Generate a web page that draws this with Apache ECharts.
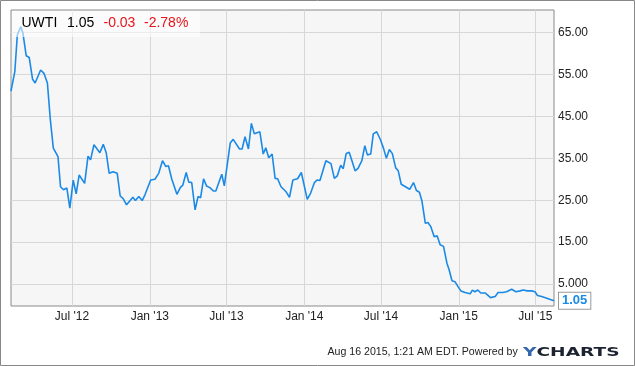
<!DOCTYPE html>
<html>
<head>
<meta charset="utf-8">
<script src="https://cdn.jsdelivr.net/npm/echarts@6/dist/echarts.min.js"></script>
<style>
html,body{margin:0;padding:0;background:#fff;}
#chart{width:635px;height:366px;}
</style>
</head>
<body>
<div id="chart"></div>
<script>
const dates = [
'2012-02-08','2012-02-17','2012-02-23','2012-03-02','2012-03-07','2012-03-15','2012-03-22','2012-03-30',
'2012-04-05','2012-04-18','2012-04-26','2012-05-04','2012-05-11','2012-05-18','2012-05-29','2012-06-04',
'2012-06-11','2012-06-19','2012-06-26','2012-07-04','2012-07-11','2012-07-18','2012-07-31','2012-08-08',
'2012-08-14','2012-08-22','2012-09-05','2012-09-13','2012-09-20','2012-09-27','2012-10-06','2012-10-16',
'2012-10-23','2012-10-30','2012-11-07','2012-11-22','2012-11-28','2012-12-06','2012-12-14','2012-12-21',
'2013-01-03','2013-01-13','2013-01-22','2013-01-31','2013-02-08','2013-02-14','2013-02-22','2013-03-06',
'2013-03-14','2013-03-20','2013-03-28','2013-04-03','2013-04-10','2013-04-18','2013-04-25','2013-05-01',
'2013-05-08','2013-05-15','2013-05-23','2013-05-31','2013-06-06','2013-06-20','2013-06-26','2013-07-10',
'2013-07-17','2013-08-01','2013-08-07','2013-08-14','2013-08-22','2013-08-29','2013-09-05','2013-09-18',
'2013-09-26','2013-10-02','2013-10-09','2013-10-17','2013-10-24','2013-10-30','2013-11-07','2013-11-19',
'2013-11-27','2013-12-05','2013-12-16','2013-12-25','2014-01-08','2014-01-16','2014-01-25','2014-01-31',
'2014-02-07','2014-02-21','2014-03-05','2014-03-13','2014-03-20','2014-03-28','2014-04-03','2014-04-10',
'2014-04-17','2014-04-23','2014-05-01','2014-05-08','2014-05-17','2014-05-24','2014-05-30','2014-06-07',
'2014-06-13','2014-06-21','2014-06-30','2014-07-07','2014-07-14','2014-07-21','2014-07-28','2014-08-05',
'2014-08-11','2014-08-18','2014-08-28','2014-09-07','2014-09-16','2014-09-23','2014-09-30','2014-10-06',
'2014-10-14','2014-10-20','2014-10-27','2014-11-04','2014-11-11','2014-11-18','2014-11-26','2014-12-04',
'2014-12-09','2014-12-16','2014-12-23','2014-12-31','2015-01-06','2015-01-16','2015-01-28','2015-02-02',
'2015-02-08','2015-02-15','2015-02-22','2015-03-04','2015-03-09','2015-03-17','2015-03-28','2015-04-04',
'2015-04-15','2015-04-24','2015-05-06','2015-05-16','2015-05-26','2015-06-02','2015-06-12','2015-06-22',
'2015-06-30','2015-07-06','2015-07-16','2015-07-28','2015-08-14'
];
const values = [
51.0,55.6,64.4,66.3,64.9,59.4,59.0,53.8,
52.9,56.0,55.2,52.9,44.1,37.4,35.4,28.2,
27.5,27.9,23.1,29.8,26.5,31.0,29.0,35.5,
34.6,38.2,36.3,38.3,36.3,31.4,31.8,31.4,
26.0,25.4,23.9,25.7,24.9,25.9,24.9,26.4,
29.8,30.0,31.4,34.4,33.0,33.2,30.0,26.4,
28.0,28.6,31.6,29.3,29.2,22.7,25.9,25.6,
30.1,28.4,28.0,27.2,27.2,31.2,28.4,38.6,
39.5,37.2,37.2,40.1,37.2,43.3,40.8,41.3,
36.0,37.5,35.1,36.0,30.2,30.1,28.2,27.0,
25.7,29.8,30.1,31.6,25.2,26.7,29.2,29.8,
29.7,34.4,33.7,30.2,30.8,33.3,32.5,36.1,
36.4,34.6,32.0,32.6,34.4,38.0,35.8,36.0,
40.8,41.3,39.4,37.4,35.0,37.1,36.1,32.7,
32.0,28.8,28.2,27.6,29.2,27.3,26.9,24.8,
19.5,19.7,18.7,16.3,16.5,14.4,14.0,10.0,
8.5,5.8,5.6,4.3,3.4,3.0,2.7,3.6,
3.2,3.6,2.9,2.9,2.5,1.8,2.05,3.0,
3.0,3.2,3.8,3.2,3.4,3.6,3.4,3.4,
3.2,2.3,2.05,1.67,1.05
];
const yTicks = [5, 15, 25, 35, 45, 55, 65];
const xTicks = ['2012-07-01','2013-01-01','2013-07-01','2014-01-01','2014-07-01','2015-01-01','2015-07-01'];
const monthNames = ['Jan','Feb','Mar','Apr','May','Jun','Jul','Aug','Sep','Oct','Nov','Dec'];
const ticker = 'UWTI';
const price = '1.05';
const change = '-0.03';
const changePct = '-2.78%';
const footer = 'Aug 16 2015, 1:21 AM EDT. Powered by';

const ts = s => Date.parse(s + 'T00:00:00Z');
const FONT = '"Liberation Sans", Arial, sans-serif';
const chart = echarts.init(document.getElementById('chart'), null, {renderer: 'canvas'});
const option = {
  animation: false,
  backgroundColor: '#ffffff',
  grid: {
    left: 11, right: 81, top: 10, bottom: 60,
    show: true, backgroundColor: '#f6f6f6', borderColor: '#8a8a8a', borderWidth: 1
  },
  xAxis: {
    type: 'value',
    min: ts(dates[0]),
    max: ts(dates[dates.length - 1]),
    axisLine: {show: false},
    axisTick: {show: false, customValues: xTicks.map(ts)},
    splitLine: {show: true, lineStyle: {color: '#d7d7d7', width: 1}},
    axisLabel: {
      customValues: xTicks.map(ts),
      color: '#222', fontSize: 12, fontFamily: FONT, margin: 5,
      showMinLabel: true, showMaxLabel: true, hideOverlap: false,
      formatter: function (v) {
        const d = new Date(v);
        return monthNames[d.getUTCMonth()] + " '" + String(d.getUTCFullYear()).slice(2);
      }
    }
  },
  yAxis: {
    type: 'value',
    position: 'right',
    min: -0.2,
    max: 70.3,
    axisLine: {show: false},
    axisTick: {show: false, customValues: yTicks},
    splitLine: {show: true, lineStyle: {color: '#d7d7d7', width: 1}},
    axisLabel: {
      customValues: yTicks,
      color: '#222', fontSize: 12, fontFamily: FONT, margin: 4,
      formatter: function (v) { return v === 5 ? '5.000' : v.toFixed(2); }
    }
  },
  series: [{
    type: 'line',
    data: dates.map((d, i) => [ts(d), values[i]]),
    showSymbol: false,
    symbol: 'none',
    lineStyle: {color: '#1a8ae6', width: 1.6},
    endLabel: {
      show: true,
      formatter: function (p) { return p.value[1].toFixed(2); },
      color: '#1a8ae6', fontWeight: 'bold', fontSize: 13, fontFamily: FONT,
      backgroundColor: '#ffffff', borderColor: '#9a9a9a', borderWidth: 1,
      padding: [2, 3, 1, 3], distance: 5
    }
  }],
  graphic: [
    {type: 'rect', shape: {x: 0.5, y: 0.5, width: 634, height: 365}, style: {fill: 'none', stroke: '#888', lineWidth: 1}, silent: true, z: 100},
    {type: 'rect', shape: {x: 12, y: 11, width: 188, height: 26}, style: {fill: 'rgba(255,255,255,0.55)'}, silent: true, z: 90},
    {type: 'text', x: 21.5, y: 23.5, style: {text: ticker, fill: '#000', font: '14px ' + FONT, textVerticalAlign: 'middle'}, z: 95},
    {type: 'text', x: 67, y: 23.5, style: {text: price, fill: '#000', font: '14px ' + FONT, textVerticalAlign: 'middle'}, z: 95},
    {type: 'text', x: 103.5, y: 23.5, style: {text: change, fill: '#e8141b', font: '14px ' + FONT, textVerticalAlign: 'middle'}, z: 95},
    {type: 'text', x: 144, y: 23.5, style: {text: changePct, fill: '#e8141b', font: '14px ' + FONT, textVerticalAlign: 'middle'}, z: 95},
    {type: 'text', x: 327.5, y: 352, style: {text: footer, fill: '#222', font: '10.6px ' + FONT, textVerticalAlign: 'middle'}, z: 95},
    {type: 'text', x: 523, y: 352.5, scaleX: 1.43,
      style: {
        text: '{y|Y}{c|CHARTS}', textVerticalAlign: 'middle',
        rich: {
          y: {fill: '#3566b0', font: 'bold 13px "DejaVu Sans", sans-serif'},
          c: {fill: '#1c2230', font: 'bold 13px "DejaVu Sans", sans-serif'}
        }
      }, z: 95}
  ]
};
chart.setOption(option);
</script>
</body>
</html>
